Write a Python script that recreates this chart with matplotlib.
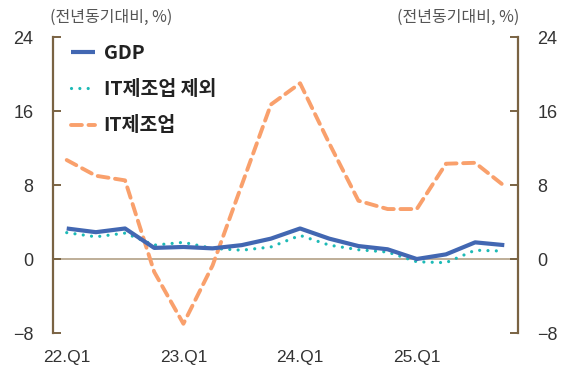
import matplotlib
matplotlib.use("Agg")
import matplotlib.pyplot as plt

plt.rcParams['font.family'] = ['Noto Sans CJK KR', 'DejaVu Sans']

# 분기별 전년동기대비 증가율 (%)
quarters = ['22.Q1', '22.Q2', '22.Q3', '22.Q4',
            '23.Q1', '23.Q2', '23.Q3', '23.Q4',
            '24.Q1', '24.Q2', '24.Q3', '24.Q4',
            '25.Q1', '25.Q2', '25.Q3', '25.Q4']
gdp = [3.3, 2.9, 3.3, 1.2, 1.3, 1.15, 1.5, 2.2,
       3.3, 2.2, 1.4, 1.05, 0.0, 0.5, 1.8, 1.5]
non_it = [2.85, 2.4, 2.8, 1.5, 1.8, 1.15, 0.95, 1.3,
          2.55, 1.5, 1.0, 0.75, -0.3, -0.4, 0.95, 0.85]
it_mfg = [10.7, 9.0, 8.5, -1.4, -7.0, -0.7, 8.0, 16.7,
          19.0, 12.5, 6.3, 5.4, 5.4, 10.3, 10.4, 7.9]
tick_labels = ['22.Q1', '23.Q1', '24.Q1', '25.Q1']
yticks = [-8, 0, 8, 16, 24]

spine_c = '#7a6343'
txt_c = '#333333'

fig = plt.figure(figsize=(5.61, 3.72), dpi=100)
ax = fig.add_axes([53/561, 1-333/372, (518-53)/561, (333-37)/372])
x = list(range(len(quarters)))

ax.axhline(0, color='#b9a890', lw=1.3, zorder=1)

ax.plot(x, gdp, color='#4267b2', lw=3.0, solid_capstyle='butt',
        label='GDP', zorder=4)
ax.plot(x, non_it, color='#1dbab6', lw=2.3, linestyle=(0, (0.01, 2.6)),
        dash_capstyle='round', label='IT제조업 제외', zorder=3)
ax.plot(x, it_mfg, color='#f9a06c', lw=2.8, linestyle=(0, (2.8, 1.7)),
        dash_capstyle='round', label='IT제조업', zorder=2)

ax.set_xlim(-0.47, 15.47)
ax.set_ylim(-8, 24)
ax.set_yticks(yticks)
ax.set_yticklabels(['\u22128', '0', '8', '16', '24'])
ax.set_xticks([0, 4, 8, 12])
ax.set_xticklabels(tick_labels)

for s in ['top', 'bottom']:
    ax.spines[s].set_visible(False)
for s in ['left', 'right']:
    ax.spines[s].set_color(spine_c)
    ax.spines[s].set_linewidth(1.6)

ax.tick_params(axis='y', direction='in', length=6, width=1.4, color=spine_c,
               labelsize=13, labelcolor=txt_c, pad=14,
               left=True, right=True, labelleft=True, labelright=True)
ax.tick_params(axis='x', length=0, labelsize=12.5, labelcolor=txt_c, pad=12)
for lab in ax.get_yticklabels() + ax.get_xticklabels():
    lab.set_family(['Liberation Sans', 'DejaVu Sans'])

fig.text(50/561, 1-17/372, '(전년동기대비, %)', fontsize=11.5, color='#555555',
         ha='left', va='center')
fig.text(519/561, 1-17/372, '(전년동기대비, %)', fontsize=11.5, color='#555555',
         ha='right', va='center')

leg = ax.legend(loc='upper left', bbox_to_anchor=(0.002, 1.035), frameon=False,
                handlelength=1.2, handletextpad=0.45, labelspacing=0.88,
                prop={'family': 'Noto Sans CJK KR', 'weight': 'bold', 'size': 14})
for t in leg.get_texts():
    t.set_color('#222222')

fig.savefig('out.png', dpi=100)
